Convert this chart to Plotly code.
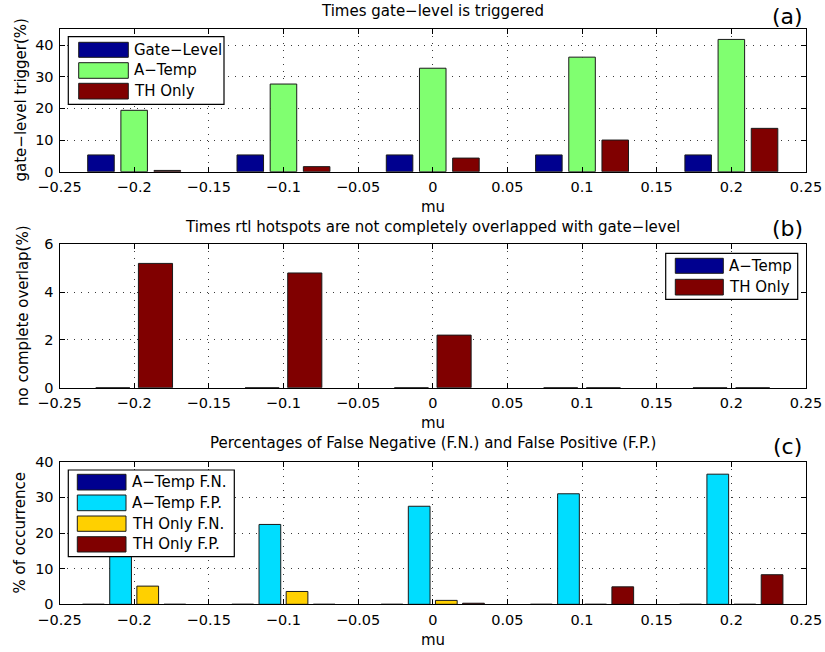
import plotly.graph_objects as go

# ---- data ----
mu = [-0.2, -0.1, 0.0, 0.1, 0.2]

# (a) times gate-level is triggered (%)
gate_level = [5.3, 5.3, 5.3, 5.3, 5.3]
a_temp_trig = [19.4, 27.7, 32.7, 36.2, 41.8]
th_only_trig = [0.4, 1.6, 4.3, 10.0, 13.7]

# (b) rtl hotspots not completely overlapped with gate-level (%)
a_temp_nc = [0.0, 0.0, 0.0, 0.0, 0.0]
th_only_nc = [5.2, 4.8, 2.2, 0.0, 0.0]

# (c) false negatives / false positives (%)
a_temp_fn = [0.0, 0.0, 0.0, 0.0, 0.0]
a_temp_fp = [17.0, 22.4, 27.5, 31.0, 36.5]
th_only_fn = [5.1, 3.6, 1.1, 0.0, 0.0]
th_only_fp = [0.0, 0.0, 0.3, 4.9, 8.3]

x_ticks = [-0.25, -0.2, -0.15, -0.1, -0.05, 0, 0.05, 0.1, 0.15, 0.2, 0.25]
x_tick_text = ["\u22120.25", "\u22120.2", "\u22120.15", "\u22120.1", "\u22120.05",
               "0", "0.05", "0.1", "0.15", "0.2", "0.25"]

NAVY = "#00008F"
GREEN = "#80FF70"
DARKRED = "#800000"
CYAN = "#00DDFF"
YELLOW = "#FFD000"
EDGE = "#1a1a1a"

W, H = 825, 652
FONT = "DejaVu Sans"

# axes frame in pixels
PL, PR = 59.5, 806.0
PANELS = {
    "a": (29.3, 171.7),
    "b": (244.3, 387.7),
    "c": (461.7, 604.3),
}


def px(x):
    return x / W


def py(y):
    return 1 - y / H


def group_layout(n, spacing=0.1):
    """MATLAB-style grouped bar geometry: offsets and bar width."""
    group = min(0.8, n / (n + 1.5)) * spacing
    slot = group / n
    width = 0.8 * slot
    offsets = [-group / 2 + slot * (i + 0.5) - width / 2 for i in range(n)]
    return offsets, width


fig = go.Figure()


def add_group(series, colors, xa, ya):
    offsets, width = group_layout(len(series))
    for vals, col, off in zip(series, colors, offsets):
        fig.add_trace(go.Bar(
            x=mu, y=vals, width=[width] * len(mu), offset=off,
            marker=dict(color=col, line=dict(color=EDGE, width=1)),
            xaxis=xa, yaxis=ya, showlegend=False, hoverinfo="x+y",
        ))


add_group([gate_level, a_temp_trig, th_only_trig], [NAVY, GREEN, DARKRED], "x", "y")
add_group([a_temp_nc, th_only_nc], [NAVY, DARKRED], "x2", "y2")
add_group([a_temp_fn, a_temp_fp, th_only_fn, th_only_fp],
          [NAVY, CYAN, YELLOW, DARKRED], "x3", "y3")

tick_font = dict(family=FONT, size=14.5, color="black")
grid = dict(showgrid=True, gridcolor="#3a3a3a", griddash="1px,6px", gridwidth=1)

def xaxis(anchor, top, bot):
    return dict(domain=[px(PL), px(PR)], anchor=anchor, range=[-0.25, 0.25],
                tickvals=x_ticks, ticktext=x_tick_text, ticks="inside", ticklen=5,
                tickcolor="black", showline=True, linecolor="black", linewidth=1,
                mirror="ticks", zeroline=False, tickfont=tick_font,
                ticklabelstandoff=2, **grid)

def yaxis(anchor, top, bot, rng, dtick):
    return dict(domain=[py(bot), py(top)], anchor=anchor, range=rng, dtick=dtick,
                tick0=0, ticks="inside", ticklen=5, tickcolor="black",
                showline=True, linecolor="black", linewidth=1, mirror="ticks",
                zeroline=False, tickfont=tick_font, ticklabelstandoff=2, **grid)

ta, ba = PANELS["a"]
tb, bb = PANELS["b"]
tc, bc = PANELS["c"]

annotations = []
shapes = []

def text(x, y, s, size=14.5, angle=0):
    annotations.append(dict(x=px(x), y=py(y), xref="paper", yref="paper", text=s,
                            showarrow=False, xanchor="center", yanchor="middle",
                            textangle=angle,
                            font=dict(family=FONT, size=size, color="black")))

cx = (PL + PR) / 2
# titles
text(cx, ta - 18, "Times gate\u2212level is triggered", 15)
text(cx, tb - 17.5, "Times rtl hotspots are not completely overlapped with gate\u2212level", 15)
text(cx, tc - 18.5, "Percentages of False Negative (F.N.) and False Positive (F.P.)", 15)
# panel letters
text(787, 17, "(a)", 22)
text(787, 228, "(b)", 22)
text(787, 446, "(c)", 22)
# x labels
text(cx, ba + 35.5, "mu", 15)
text(cx, bb + 35.5, "mu", 15)
text(cx, bc + 35.5, "mu", 15)
# y labels
text(21, (ta + ba) / 2, "gate\u2212level trigger(%)", 15, -90)
text(23, (tb + bb) / 2, "no complete overlap(%)", 15, -90)
text(19.5, (tc + bc) / 2, "% of occurrence", 15, -90)


def legend(box, sw_x, text_x, rows, names, colors):
    x0, x1, y0, y1 = box
    shapes.append(dict(type="rect", xref="paper", yref="paper", layer="above",
                       x0=px(x0), x1=px(x1), y0=py(y1), y1=py(y0),
                       fillcolor="white", line=dict(color="black", width=1.2)))
    for (r0, r1), name, col in zip(rows, names, colors):
        shapes.append(dict(type="rect", xref="paper", yref="paper", layer="above",
                           x0=px(sw_x[0]), x1=px(sw_x[1]), y0=py(r1), y1=py(r0),
                           fillcolor=col, line=dict(color=EDGE, width=1)))
        annotations.append(dict(x=px(text_x), y=py((r0 + r1) / 2), xref="paper",
                                yref="paper", text=name, showarrow=False,
                                xanchor="left", yanchor="middle",
                                font=dict(family=FONT, size=15, color="black")))


legend((68.3, 224, 36.7, 104.3), (78.7, 128.3), 132,
       [(42.3, 57.3), (62.7, 78.3), (83.3, 99)],
       ["Gate\u2212Level", "A\u2212Temp", "TH Only"], [NAVY, GREEN, DARKRED])
legend((665.7, 797.7, 253.3, 299.3), (675.3, 723.3), 727,
       [(258.3, 273.3), (279.3, 295)],
       ["A\u2212Temp", "TH Only"], [NAVY, DARKRED])
legend((68.3, 234.3, 470, 556.7), (77.3, 126), 129.5,
       [(474.3, 490), (495, 510.7), (516, 531.3), (536.7, 552)],
       ["A\u2212Temp F.N.", "A\u2212Temp F.P.", "TH Only F.N.", "TH Only F.P."],
       [NAVY, CYAN, YELLOW, DARKRED])

fig.update_layout(
    width=W, height=H,
    margin=dict(l=0, r=0, t=0, b=0, autoexpand=False),
    paper_bgcolor="white", plot_bgcolor="white",
    barmode="overlay", showlegend=False,
    xaxis=xaxis("y", ta, ba),
    yaxis=yaxis("x", ta, ba, [0, 45], 10),
    xaxis2=xaxis("y2", tb, bb),
    yaxis2=yaxis("x2", tb, bb, [0, 6], 2),
    xaxis3=xaxis("y3", tc, bc),
    yaxis3=yaxis("x3", tc, bc, [0, 40], 10),
    annotations=annotations,
    shapes=shapes,
    font=dict(family=FONT, color="black"),
)

fig.write_html("out.html")
